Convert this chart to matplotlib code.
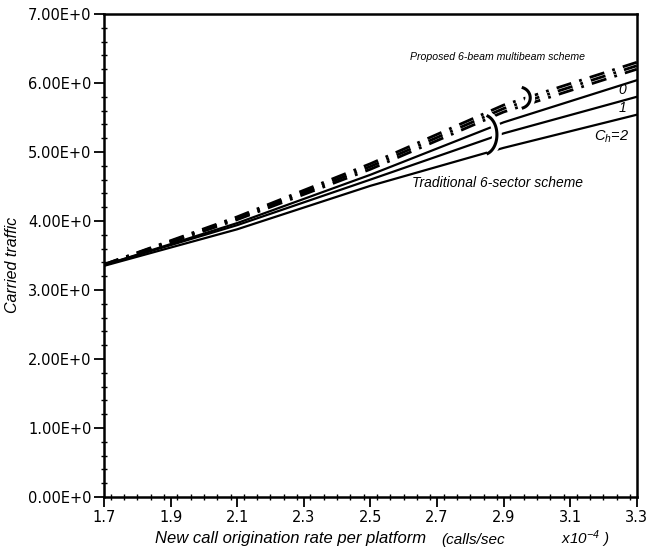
import numpy as np
import matplotlib
matplotlib.use('Agg')
import matplotlib.pyplot as plt
from matplotlib.ticker import MultipleLocator, FuncFormatter

plt.rcParams['lines.scale_dashes'] = False
plt.rcParams['mathtext.fontset'] = 'custom'
plt.rcParams['mathtext.it'] = 'Liberation Sans:italic'
plt.rcParams['mathtext.rm'] = 'Liberation Sans:italic'

# new call origination rate (calls/sec x10^-4)
rate = [1.7, 2.1, 2.5, 2.9, 3.3]

# traditional 6-sector scheme, Ch = 0, 1, 2
trad_ch0 = [3.36, 3.97, 4.67, 5.43, 6.04]
trad_ch1 = [3.36, 3.94, 4.60, 5.27, 5.80]
trad_ch2 = [3.35, 3.88, 4.51, 5.06, 5.54]

# proposed 6-beam multibeam scheme, Ch = 0, 1, 2
beam_ch0 = [3.37, 4.06, 4.83, 5.68, 6.30]
beam_ch1 = [3.37, 4.04, 4.79, 5.63, 6.25]
beam_ch2 = [3.36, 4.02, 4.75, 5.58, 6.20]

ch_labels = ['0', '1', r'$C_h$=2']

# brackets: (centre x, centre y, half width, half height)
brackets = [(2.948, 5.785, 0.032, 0.154), (2.839, 5.25, 0.041, 0.287)]

fig = plt.figure(figsize=(6.71, 5.49), dpi=100)
ax = fig.add_axes([0.155, 0.0947, 0.794, 0.8798])

dashdot = (0, (11, 6, 2, 6))
for y in [beam_ch0, beam_ch1, beam_ch2]:
    ax.plot(rate, y, color='black', lw=2.0, linestyle=dashdot)
for y in [trad_ch0, trad_ch1, trad_ch2]:
    ax.plot(rate, y, color='black', lw=1.6)

t = np.radians(np.linspace(-70, 70, 40))
for cx, cy, a, b in brackets:
    bx = cx + a * np.cos(t)
    by = cy + b * np.sin(t)
    ax.plot(bx, by, color='white', lw=7, zorder=4, solid_capstyle='butt')
    ax.plot(bx, by, color='black', lw=2.2, zorder=5)

txt = dict(style='italic', family='Liberation Sans', ha='center', va='center')
ax.text(2.883, 6.38, 'Proposed 6-beam multibeam scheme', fontsize=7.6, **txt)
ax.text(2.883, 4.55, 'Traditional 6-sector scheme', fontsize=10, **txt)
ax.text(3.255, 5.90, ch_labels[0], fontsize=10, **txt)
ax.text(3.258, 5.64, ch_labels[1], fontsize=10, **txt)
ax.text(3.225, 5.22, ch_labels[2], fontsize=10.5, **txt)

ax.set_xlim(1.7, 3.3)
ax.set_ylim(0, 7)
ax.set_xticks(np.arange(1.7, 3.31, 0.2))
ax.xaxis.set_major_formatter(FuncFormatter(lambda v, p: f'{v:.1f}'))
ax.xaxis.set_minor_locator(MultipleLocator(0.04))
ax.yaxis.set_major_locator(MultipleLocator(1))
ax.yaxis.set_minor_locator(MultipleLocator(0.2))
ax.yaxis.set_major_formatter(FuncFormatter(lambda v, p: f'{v:.2f}E+0'))

ax.tick_params(which='major', direction='out', length=7, width=1.3, labelsize=10.5, pad=2)
ax.tick_params(which='minor', direction='inout', length=5, width=1.0)
for s in ax.spines.values():
    s.set_linewidth(1.8)

fig.text(0.018, 0.517, 'Carried traffic', style='italic', fontsize=11.5, family='Liberation Sans',
         rotation=90, ha='center', va='center')
fig.text(0.231, 0.019, 'New call origination rate per platform', style='italic', fontsize=12,
         family='Liberation Sans', ha='left', va='center')
fig.text(0.705, 0.017, '(calls/sec', style='italic', fontsize=11,
         family='Liberation Sans', ha='center', va='center')
fig.text(0.872, 0.017, r'x10$^{-4}$ )', style='italic', fontsize=11,
         family='Liberation Sans', ha='center', va='center')

fig.savefig('out.png', dpi=100)
